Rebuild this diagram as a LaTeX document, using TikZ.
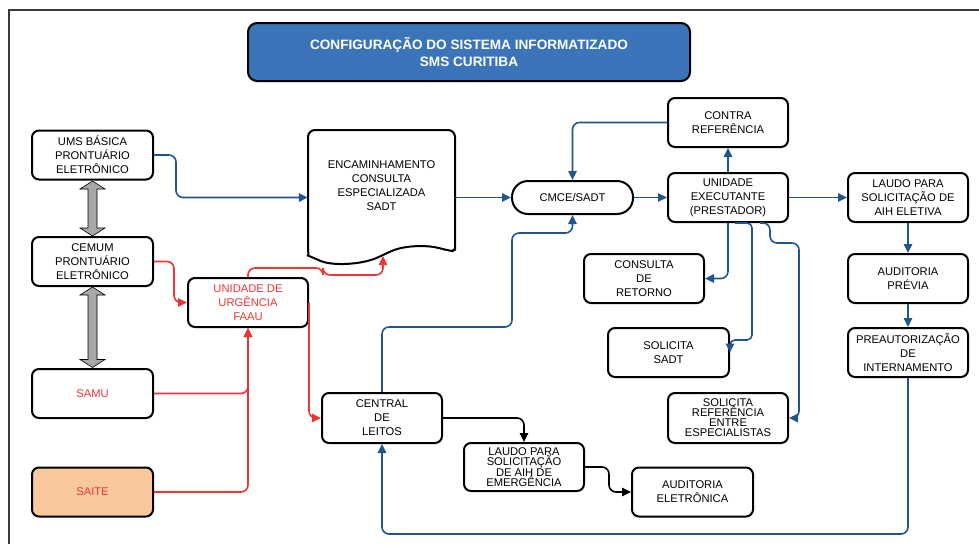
\documentclass[tikz,border=0pt]{standalone}
\usepackage{fontspec}
\setmainfont{Liberation Sans}
\usetikzlibrary{arrows.meta}
\definecolor{flowblue}{HTML}{20558F}
\definecolor{flowred}{HTML}{EE3535}
\definecolor{titleblue}{HTML}{3C74B9}
\definecolor{saitefill}{HTML}{F9C89E}
\definecolor{arrowgray}{HTML}{A8A8A8}
\definecolor{framegray}{HTML}{3A3A3A}
\newcommand\flowtext{\fontsize{11.2}{14}\selectfont}
\newcommand\tighttext{\fontsize{11.2}{10}\selectfont}
\newcommand\titletext{\fontsize{13.6}{16.5}\selectfont\bfseries}

\begin{document}
\begin{tikzpicture}[x=1pt,y=-1pt,
  box/.style={draw, line width=2pt, rounded corners=7pt, minimum width=121pt,
    minimum height=49pt, align=center, inner sep=1pt, font=\flowtext},
  pill/.style={box, minimum height=33pt, rounded corners=16pt},
  redtext/.style={text=flowred},
  tip/.style={-{Triangle[length=9pt,width=8.5pt]}},
  conn/.style={tip, line width=1.6pt, rounded corners=7pt},
  blueconn/.style={conn, draw=flowblue, fill=none},
  redconn/.style={conn, draw=flowred},
  blackconn/.style={conn, draw=black},
  grayarrow/.style={draw=black, line width=0.6pt, fill=arrowgray, line join=miter}
]
\useasboundingbox (0,0) rectangle (979,544);
\fill[white] (0,0) rectangle (979,544);

% page frame
\draw[framegray, line width=1.4pt] (9,544) -- (9,10) -- (979,10);

% heading
\node[draw, line width=2pt, rounded corners=9pt, fill=titleblue, text=white,
  minimum width=442pt, minimum height=58pt, align=center, font=\titletext]
  (title) at (469,52) {CONFIGURAÇÃO DO SISTEMA INFORMATIZADO\\SMS CURITIBA};

% left column
\node[box] (ums)   at (92.5,155)   {UMS BÁSICA\\PRONTUÁRIO\\ELETRÔNICO};
\node[box] (cemum) at (92.5,261.5) {CEMUM\\PRONTUÁRIO\\ELETRÔNICO};
\node[box, redtext] (samu)  at (92.5,393.5) {SAMU};
\node[box, redtext, fill=saitefill] (saite) at (92.5,492) {SAITE};

\node[box, redtext, minimum width=120pt] (urg) at (248,302.5) {UNIDADE DE\\URGÊNCIA\\FAAU};

% referral document
\node[minimum width=147pt, minimum height=112pt, align=center, font=\flowtext,
  inner sep=0pt] (enc) at (381.5,186) {ENCAMINHAMENTO\\CONSULTA\\ESPECIALIZADA\\SADT};
\draw[line width=2pt, rounded corners=7pt, line cap=round, line join=round]
  (308,246) -- (308,130) -- (455,130) -- (455,243)
  .. controls (455,248) and (452,251) .. (446,250)
  .. controls (428,245) and (405,245) .. (385,254)
  .. controls (362,265) and (332,266) .. (314,258)
  .. controls (309,256) and (308,253) .. (308,246);
\coordinate (encbot) at (383,256);

% regulation and provider
\node[pill] (cmce) at (572.5,197.5) {CMCE/SADT};
\node[box, minimum width=120pt] (contra) at (728,122.5) {CONTRA\\REFERÊNCIA};
\node[box, minimum width=120pt] (ue) at (728,197.5) {UNIDADE\\EXECUTANTE\\(PRESTADOR)};
\node[box, minimum width=120pt] (ret) at (644,278.5) {CONSULTA\\DE\\RETORNO};
\node[box] (sadt) at (668.5,352.5) {SOLICITA\\SADT};
\node[box, minimum width=120pt, minimum height=50pt, font=\tighttext] (ref) at (728,418)
  {SOLICITA\\REFERÊNCIA\\ENTRE\\ESPECIALISTAS};

% hospital admission chain
\node[box, minimum width=120pt] (lae) at (908,197.5) {LAUDO PARA\\SOLICITAÇÃO DE\\AIH ELETIVA};
\node[box, minimum width=120pt] (aud) at (908,278.5) {AUDITORIA\\PRÉVIA};
\node[box, minimum width=120pt] (pre) at (908,352.5) {PREAUTORIZAÇÃO\\DE\\INTERNAMENTO};

\node[box, minimum width=120pt, minimum height=50pt] (cen) at (382,418) {CENTRAL\\DE\\LEITOS};
\node[box, minimum width=120pt, minimum height=48pt, font=\tighttext] (lem) at (524,467)
  {LAUDO PARA\\SOLICITAÇÃO\\DE AIH DE\\EMERGÊNCIA};
\node[box] (ael) at (692.5,492) {AUDITORIA\\ELETRÔNICA};

% two-way links between the record systems
\draw[grayarrow] (92.5,181) -- (105,189) -- (97,189) -- (97,228) -- (105,228)
  -- (92.5,236) -- (80,228) -- (88,228) -- (88,189) -- (80,189) -- cycle;
\draw[grayarrow] (92.5,287) -- (105,295) -- (97,295) -- (97,359.5) -- (105,359.5)
  -- (92.5,367.5) -- (80,359.5) -- (88,359.5) -- (88,295) -- (80,295) -- cycle;

% elective flow
\draw[blueconn] (ums.east) -- ++(22,0) |- (enc.west |- cmce.west);
\draw[blueconn] (enc.east |- cmce.west) -- (cmce.west);
\draw[blueconn] (cmce.east) -- (ue.west);
\draw[blueconn] (ue.north) -- (contra.south);
\draw[blueconn] (contra.west) -| (cmce.north);
\draw[blueconn] (ue.east) -- (lae.west);
\draw[blueconn] (lae.south) -- (aud.north);
\draw[blueconn] (aud.south) -- (pre.north);
\draw[blueconn] (pre.south) -- (pre.south |- 0,534) -| (cen.south);
\draw[blueconn] (cen.north) |- (512,327) |- (cmce.south |- 0,233) -- (cmce.south);
\draw[blueconn] (ue.south) |- (ret.east);
\draw[blueconn, rounded corners=5pt] ([xshift=7pt]ue.south) -| (752,340) -| (sadt.east);
\draw[blueconn] ([xshift=32pt]ue.south) -| (770,243) -| (799,418) -- (ref.east);

% emergency flow
\draw[redconn] (cemum.east) -- ++(20,0) |- (urg.west);
\draw[redconn] (urg.north) |- (323,268) |- (383,275) -- (encbot);
\draw[redconn] (samu.east) -| (urg.south);
\draw[redconn] (saite.east) -| (urg.south);
\draw[redconn] (urg.east) |- (cen.west);
\draw[blackconn] (cen.east) -| (lem.north);
\draw[blackconn] (lem.east) -- ++(24,0) |- (ael.west);
\end{tikzpicture}
\end{document}
